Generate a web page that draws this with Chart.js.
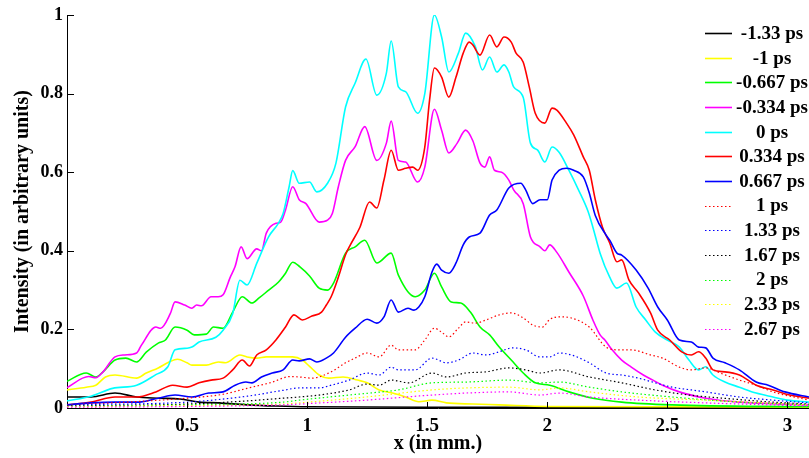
<!DOCTYPE html>
<html>
<head>
<meta charset="utf-8">
<script src="https://cdn.jsdelivr.net/npm/chart.js@4"></script>
<style>
  html, body { margin: 0; padding: 0; background: #fff; }
  #wrap { width: 809px; height: 458px; }
</style>
</head>
<body>
<div id="wrap"><canvas id="chart"></canvas></div>
<script>
// legend text, one per curve (delay in ps)
const seriesLabels = ["-1.33 ps", "-1 ps", "-0.667 ps", "-0.334 ps", "0 ps", "0.334 ps", "0.667 ps",
  "1 ps", "1.33 ps", "1.67 ps", "2 ps", "2.33 ps", "2.67 ps"];

const xTicks = [0.5, 1, 1.5, 2, 2.5, 3];
const yTicks = [0, 0.2, 0.4, 0.6, 0.8, 1];

// [x in mm, intensity]
const m133 = [[0,0.028],[0.1,0.028],[0.2,0.038],[0.29,0.028],[0.38,0.025],[0.47,0.023],[0.55,0.015],[0.63,0.013],
  [0.75,0.008],[0.87,0.005],[1.0,0.003],[1.5,0.002],[2.0,0.002],[2.5,0.001],[3.09,0.001]];

const m1 = [[0,0.046],[0.08,0.053],[0.12,0.058],[0.16,0.079],[0.2,0.084],[0.29,0.076],[0.33,0.089],[0.38,0.102],
  [0.425,0.117],[0.46,0.124],[0.5,0.115],[0.52,0.109],[0.58,0.109],[0.63,0.117],[0.66,0.115],[0.72,0.135],[0.75,0.13],
  [0.79,0.127],[0.83,0.13],[0.88,0.13],[0.94,0.13],[0.98,0.122],[1.01,0.106],[1.05,0.084],[1.09,0.076],[1.15,0.079],
  [1.21,0.071],[1.25,0.064],[1.3,0.046],[1.355,0.038],[1.41,0.028],[1.465,0.016],[1.52,0.02],[1.58,0.013],[1.69,0.01],
  [1.8,0.008],[2.0,0.004],[2.5,0.003],[3.09,0.002]];

const m0667 = [[0,0.068],[0.08,0.089],[0.12,0.079],[0.15,0.092],[0.2,0.122],[0.245,0.127],[0.29,0.117],[0.33,0.142],
  [0.38,0.165],[0.41,0.173],[0.45,0.206],[0.5,0.198],[0.53,0.186],[0.58,0.188],[0.61,0.206],[0.65,0.203],[0.69,0.244],
  [0.73,0.283],[0.77,0.267],[0.8,0.28],[0.84,0.3],[0.88,0.32],[0.91,0.343],[0.94,0.371],[0.97,0.359],[1.01,0.336],
  [1.05,0.305],[1.085,0.3],[1.11,0.318],[1.16,0.394],[1.2,0.41],[1.24,0.427],[1.29,0.369],[1.35,0.394],[1.38,0.338],
  [1.45,0.283],[1.49,0.3],[1.53,0.343],[1.56,0.308],[1.6,0.27],[1.64,0.267],[1.68,0.244],[1.72,0.206],[1.76,0.186],
  [1.8,0.155],[1.85,0.122],[1.9,0.089],[1.95,0.064],[2.01,0.058],[2.09,0.041],[2.19,0.025],[2.31,0.015],[2.52,0.008],
  [3.09,0.003]];

const m0334 = [[0,0.052],[0.09,0.08],[0.12,0.077],[0.15,0.092],[0.2,0.13],[0.24,0.135],[0.29,0.14],[0.31,0.16],
  [0.37,0.206],[0.39,0.203],[0.43,0.24],[0.45,0.27],[0.49,0.262],[0.52,0.254],[0.54,0.262],[0.56,0.26],[0.6,0.283],
  [0.63,0.283],[0.65,0.288],[0.68,0.333],[0.7,0.36],[0.725,0.41],[0.75,0.38],[0.79,0.405],[0.81,0.4],[0.83,0.445],
  [0.87,0.47],[0.89,0.473],[0.91,0.504],[0.94,0.563],[0.967,0.53],[0.995,0.52],[1.05,0.473],[1.085,0.478],[1.105,0.495],
  [1.13,0.563],[1.16,0.63],[1.2,0.665],[1.24,0.716],[1.29,0.63],[1.33,0.674],[1.35,0.73],[1.38,0.63],[1.41,0.626],
  [1.46,0.575],[1.49,0.613],[1.53,0.76],[1.56,0.707],[1.59,0.649],[1.625,0.674],[1.66,0.707],[1.69,0.68],[1.72,0.623],
  [1.74,0.613],[1.76,0.639],[1.78,0.605],[1.81,0.6],[1.84,0.58],[1.86,0.555],[1.9,0.52],[1.93,0.435],[1.97,0.41],
  [1.99,0.4],[2.01,0.415],[2.04,0.396],[2.09,0.346],[2.15,0.285],[2.19,0.224],[2.22,0.186],[2.24,0.173],[2.27,0.148],
  [2.31,0.122],[2.35,0.104],[2.4,0.084],[2.44,0.071],[2.48,0.058],[2.55,0.041],[2.66,0.025],[2.8,0.015],[3.09,0.008]];

const p0 = [[0,0.018],[0.1,0.03],[0.19,0.05],[0.29,0.058],[0.37,0.085],[0.42,0.105],[0.45,0.148],[0.5,0.152],
  [0.52,0.155],[0.55,0.168],[0.62,0.18],[0.65,0.198],[0.69,0.24],[0.72,0.325],[0.75,0.313],[0.79,0.368],[0.84,0.436],
  [0.88,0.47],[0.9,0.495],[0.925,0.563],[0.94,0.604],[0.967,0.572],[1.01,0.575],[1.04,0.55],[1.085,0.572],[1.12,0.623],
  [1.16,0.766],[1.2,0.827],[1.245,0.888],[1.29,0.796],[1.33,0.852],[1.35,0.934],[1.38,0.817],[1.41,0.805],[1.46,0.75],
  [1.49,0.8],[1.53,1.0],[1.56,0.944],[1.59,0.855],[1.63,0.903],[1.66,0.954],[1.7,0.92],[1.73,0.86],[1.76,0.893],
  [1.79,0.855],[1.82,0.873],[1.84,0.855],[1.86,0.817],[1.9,0.79],[1.93,0.674],[1.96,0.656],[1.99,0.626],[2.02,0.664],
  [2.05,0.65],[2.09,0.605],[2.13,0.555],[2.17,0.5],[2.19,0.46],[2.22,0.394],[2.26,0.333],[2.29,0.305],[2.33,0.318],
  [2.37,0.257],[2.41,0.224],[2.45,0.193],[2.5,0.173],[2.55,0.155],[2.59,0.122],[2.63,0.097],[2.66,0.105],[2.69,0.084],
  [2.74,0.066],[2.8,0.053],[2.87,0.038],[2.94,0.028],[3.0,0.02],[3.09,0.015]];

const p0334 = [[0,0.008],[0.1,0.015],[0.2,0.028],[0.29,0.028],[0.37,0.041],[0.44,0.058],[0.5,0.053],[0.55,0.064],
  [0.6,0.071],[0.65,0.076],[0.69,0.097],[0.73,0.122],[0.76,0.107],[0.79,0.135],[0.83,0.148],[0.87,0.173],[0.91,0.206],
  [0.945,0.237],[0.98,0.224],[1.02,0.234],[1.06,0.244],[1.08,0.262],[1.1,0.283],[1.13,0.333],[1.16,0.39],[1.18,0.415],
  [1.22,0.46],[1.26,0.524],[1.29,0.509],[1.32,0.58],[1.35,0.656],[1.38,0.605],[1.41,0.61],[1.44,0.613],[1.46,0.605],
  [1.49,0.664],[1.51,0.784],[1.53,0.865],[1.56,0.842],[1.59,0.791],[1.62,0.842],[1.65,0.903],[1.675,0.931],[1.69,0.924],
  [1.72,0.898],[1.76,0.949],[1.79,0.919],[1.82,0.944],[1.85,0.931],[1.87,0.903],[1.9,0.88],[1.925,0.817],[1.95,0.75],
  [1.99,0.725],[2.02,0.763],[2.04,0.758],[2.08,0.725],[2.11,0.695],[2.15,0.639],[2.175,0.605],[2.2,0.53],[2.23,0.46],
  [2.26,0.42],[2.29,0.372],[2.31,0.377],[2.34,0.326],[2.38,0.293],[2.43,0.242],[2.46,0.198],[2.51,0.173],[2.56,0.143],
  [2.6,0.135],[2.63,0.143],[2.66,0.127],[2.69,0.097],[2.74,0.092],[2.8,0.084],[2.87,0.058],[2.94,0.046],[3.01,0.033],
  [3.09,0.025]];

const p0667 = [[0,0.008],[0.1,0.013],[0.2,0.015],[0.3,0.015],[0.38,0.025],[0.45,0.033],[0.52,0.028],[0.59,0.038],
  [0.65,0.041],[0.7,0.058],[0.745,0.066],[0.77,0.064],[0.81,0.079],[0.855,0.089],[0.9,0.097],[0.94,0.122],[0.967,0.12],
  [1.01,0.125],[1.04,0.117],[1.08,0.127],[1.11,0.14],[1.16,0.18],[1.2,0.203],[1.25,0.226],[1.29,0.216],[1.32,0.232],
  [1.35,0.275],[1.38,0.244],[1.42,0.254],[1.445,0.249],[1.465,0.257],[1.49,0.283],[1.52,0.346],[1.54,0.366],[1.56,0.351],
  [1.59,0.343],[1.62,0.369],[1.65,0.415],[1.675,0.435],[1.72,0.445],[1.76,0.491],[1.79,0.504],[1.84,0.56],[1.89,0.572],
  [1.91,0.555],[1.94,0.52],[1.97,0.53],[2.0,0.53],[2.02,0.58],[2.05,0.605],[2.08,0.61],[2.11,0.605],[2.15,0.588],
  [2.175,0.547],[2.2,0.49],[2.245,0.44],[2.26,0.427],[2.29,0.394],[2.31,0.389],[2.37,0.351],[2.42,0.305],[2.46,0.257],
  [2.5,0.224],[2.55,0.173],[2.6,0.168],[2.63,0.155],[2.66,0.153],[2.69,0.127],[2.74,0.115],[2.8,0.097],[2.87,0.066],
  [2.92,0.058],[2.99,0.041],[3.09,0.028]];

const p1 = [[0,0.008],[0.25,0.015],[0.5,0.025],[0.65,0.035],[0.75,0.05],[0.85,0.065],[0.93,0.08],[0.967,0.079],
  [1.02,0.076],[1.1,0.092],[1.16,0.115],[1.2,0.127],[1.25,0.14],[1.3,0.13],[1.35,0.16],[1.38,0.148],[1.45,0.148],
  [1.49,0.173],[1.53,0.203],[1.56,0.193],[1.59,0.181],[1.63,0.203],[1.66,0.219],[1.7,0.216],[1.745,0.224],[1.8,0.237],
  [1.85,0.242],[1.9,0.229],[1.94,0.211],[1.98,0.206],[2.01,0.225],[2.05,0.232],[2.1,0.229],[2.175,0.206],[2.245,0.155],
  [2.3,0.148],[2.35,0.148],[2.43,0.135],[2.48,0.127],[2.55,0.104],[2.6,0.097],[2.66,0.102],[2.72,0.089],[2.8,0.071],
  [2.87,0.058],[2.94,0.041],[3.09,0.02]];

const p133 = [[0,0.008],[0.5,0.015],[0.75,0.03],[0.9,0.045],[0.967,0.051],[1.05,0.051],[1.1,0.058],[1.175,0.071],
  [1.25,0.089],[1.3,0.084],[1.35,0.104],[1.38,0.097],[1.45,0.097],[1.52,0.127],[1.58,0.115],[1.63,0.122],[1.69,0.14],
  [1.745,0.135],[1.8,0.143],[1.855,0.153],[1.91,0.148],[1.97,0.13],[2.01,0.13],[2.05,0.14],[2.1,0.135],[2.175,0.115],
  [2.245,0.089],[2.31,0.084],[2.38,0.076],[2.45,0.064],[2.52,0.053],[2.6,0.046],[2.66,0.041],[2.8,0.028],[2.94,0.02],
  [3.09,0.013]];

const p167 = [[0,0.005],[0.5,0.01],[0.75,0.018],[0.9,0.025],[0.967,0.028],[1.05,0.033],[1.175,0.046],[1.25,0.061],
  [1.3,0.058],[1.35,0.071],[1.425,0.064],[1.52,0.089],[1.58,0.079],[1.66,0.089],[1.745,0.092],[1.84,0.102],[1.91,0.097],
  [1.97,0.089],[2.05,0.097],[2.175,0.079],[2.31,0.064],[2.45,0.046],[2.59,0.033],[2.73,0.025],[2.94,0.015],[3.09,0.01]];

const p2 = [[0,0.004],[0.5,0.008],[0.9,0.015],[0.967,0.02],[1.175,0.033],[1.31,0.041],[1.38,0.046],[1.52,0.064],
  [1.66,0.066],[1.84,0.071],[1.97,0.064],[2.05,0.066],[2.175,0.053],[2.31,0.041],[2.52,0.028],[2.8,0.015],[3.09,0.008]];

const p233 = [[0,0.003],[0.5,0.006],[0.9,0.01],[0.967,0.013],[1.245,0.028],[1.52,0.046],[1.66,0.051],[1.84,0.053],
  [1.97,0.046],[2.05,0.051],[2.175,0.041],[2.38,0.028],[2.66,0.02],[3.09,0.008]];

const p267 = [[0,0.002],[0.5,0.004],[0.9,0.008],[0.967,0.01],[1.245,0.02],[1.52,0.033],[1.66,0.038],[1.84,0.041],
  [1.97,0.033],[2.05,0.038],[2.175,0.028],[2.38,0.02],[2.66,0.013],[3.09,0.005]];

const seriesData = [m133, m1, m0667, m0334, p0, p0334, p0667, p1, p133, p167, p2, p233, p267];
const seriesColors = ["#000000", "#ffff00", "#00ff00", "#ff00ff", "#00ffff", "#ff0000", "#0000ff",
  "#ff0000", "#0000ff", "#000000", "#00ff00", "#ffff00", "#ff00ff"];

const FONT = "'Liberation Serif', 'Times New Roman', serif";

const datasets = seriesData.map((d, i) => ({
  label: seriesLabels[i],
  data: d,
  borderColor: seriesColors[i],
  borderWidth: i < 7 ? 1.6 : 1.2,
  borderDash: i < 7 ? [] : [1.5, 2.5],
  pointRadius: 0,
  cubicInterpolationMode: "monotone",
  fill: false,
  order: seriesData.length - i, // last series on top, like the original plot
}));

// plain number labels: 0, 0.2 ... 1 (no trailing .0)
const numLabel = (v) => String(Math.round(v * 100) / 100);

// inward tick marks on the left and bottom axes
const innerTicks = {
  id: "innerTicks",
  afterDraw(chart) {
    const ctx = chart.ctx;
    const { left, bottom } = chart.chartArea;
    const xs = chart.scales.x, ys = chart.scales.y;
    ctx.save();
    ctx.strokeStyle = "#000";
    ctx.lineWidth = 1;
    ctx.beginPath();
    yTicks.forEach((v) => {
      const py = Math.round(ys.getPixelForValue(v)) + 0.5;
      ctx.moveTo(left, py);
      ctx.lineTo(left + 7, py);
    });
    xTicks.forEach((v) => {
      const px = Math.round(xs.getPixelForValue(v)) + 0.5;
      ctx.moveTo(px, bottom);
      ctx.lineTo(px, bottom - 6);
    });
    ctx.stroke();
    ctx.restore();
  },
};

// legend in the upper right corner (MATLAB style, centred text)
const sideLegend = {
  id: "sideLegend",
  afterDatasetsDraw(chart) {
    const ctx = chart.ctx;
    ctx.save();
    ctx.font = "bold 19px " + FONT;
    ctx.textAlign = "center";
    ctx.textBaseline = "middle";
    chart.data.datasets.forEach((ds, i) => {
      const y = 33 + i * 24.65;
      ctx.strokeStyle = ds.borderColor;
      ctx.lineWidth = ds.borderWidth;
      ctx.setLineDash(ds.borderDash);
      ctx.beginPath();
      ctx.moveTo(705, Math.round(y) + 0.5);
      ctx.lineTo(732, Math.round(y) + 0.5);
      ctx.stroke();
      ctx.setLineDash([]);
      ctx.fillStyle = "#000";
      ctx.fillText(ds.label, 772, y + 1);
    });
    ctx.restore();
  },
};

new Chart(document.getElementById("chart"), {
  type: "line",
  data: { datasets: datasets },
  plugins: [innerTicks, sideLegend],
  options: {
    responsive: true,
    maintainAspectRatio: false,
    animation: false,
    layout: { padding: { top: 15, right: 0, left: 0, bottom: 0 } },
    plugins: { legend: { display: false }, tooltip: { enabled: false } },
    scales: {
      x: {
        type: "linear",
        min: 0,
        max: 3.09,
        afterBuildTicks: (s) => { s.ticks = xTicks.map((v) => ({ value: v })); },
        afterFit: (s) => { s.height = 50; },
        grid: { display: false, drawTicks: false },
        border: { display: true, color: "#000", width: 1 },
        ticks: { color: "#000", font: { family: FONT, size: 19, weight: "bold" }, padding: 7, maxRotation: 0, callback: numLabel },
        title: { display: true, text: "x (in mm.)", color: "#000", font: { family: FONT, size: 20, weight: "bold" }, padding: { top: 0, bottom: 2 } },
      },
      y: {
        min: 0,
        max: 1,
        afterBuildTicks: (s) => { s.ticks = yTicks.map((v) => ({ value: v })); },
        afterFit: (s) => { s.width = 67; },
        grid: { display: false, drawTicks: false },
        border: { display: true, color: "#000", width: 1 },
        ticks: { color: "#000", font: { family: FONT, size: 18, weight: "bold" }, padding: 4, callback: numLabel },
        title: { display: true, text: "Intensity (in arbitrary units)", color: "#000", font: { family: FONT, size: 20, weight: "bold" }, padding: { top: 11, bottom: 0 } },
      },
    },
  },
});
</script>
</body>
</html>
